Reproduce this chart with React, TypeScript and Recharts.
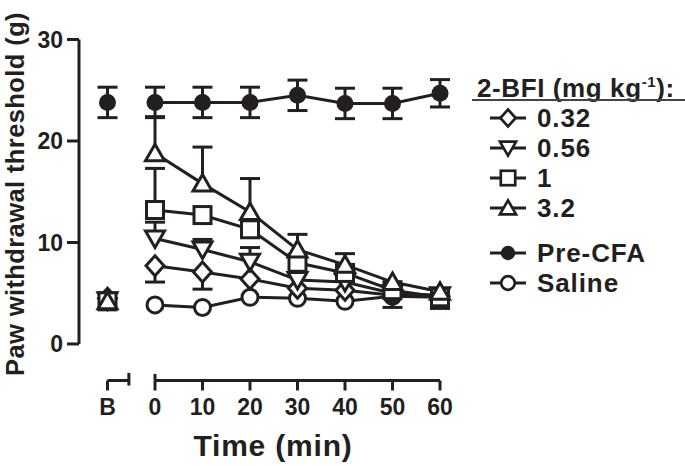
import React from 'react';
import { ComposedChart, Line, XAxis, YAxis, ErrorBar, ReferenceLine, Customized } from 'recharts';

const INK = '#231f20';
const FONT = '"Liberation Sans", Arial, Helvetica, sans-serif';

// time points (min); -10 stands for the baseline "B"
const times = [-10, 0, 10, 20, 30, 40, 50, 60];
const timeTicks = [-10, 0, 10, 20, 30, 40, 50, 60];
const yTicks = [0, 10, 20, 30];

const preCFA = [23.8, 23.8, 23.8, 23.8, 24.5, 23.7, 23.7, 24.7];
const preCFAErr = [1.5, 1.5, 1.5, 1.5, 1.5, 1.5, 1.5, 1.35];

const saline = [4.3, 3.85, 3.6, 4.6, 4.5, 4.2, 4.7, 4.6];
const salineErrDown = [0, 0, 0, 0, 0, 0, 0, 1.1];

const dose032 = [4.5, 7.7, 7.1, 6.4, 5.5, 5.3, 4.8, 4.7];
const dose032ErrDown = [0, 1.6, 1.7, 0, 0, 0, 1.2, 0];

const dose056 = [4.3, 10.4, 9.3, 8.1, 6.3, 6.1, 5.0, 4.8];
const dose056ErrUp = [0, 1.6, 1.0, 1.4, 0, 0, 0, 0];

const dose1 = [4.2, 13.2, 12.7, 11.3, 8.0, 7.0, 5.3, 4.6];
const dose1ErrUp = [0, 4.1, 0, 0, 0, 0, 0, 0];

const dose32 = [4.2, 18.8, 15.8, 13.0, 9.3, 7.8, 6.1, 5.15];
const dose32ErrUp = [0, 3.6, 3.6, 3.3, 1.5, 1.1, 0, 0];

const zeros = times.map(() => 0);

type Kind = 'diamond' | 'triDown' | 'square' | 'triUp' | 'dot' | 'ring';

const seriesDefs: { key: string; name: string; kind: Kind; values: number[]; up: number[]; down: number[] }[] = [
  { key: 'sal', name: 'Saline', kind: 'ring', values: saline, up: zeros, down: salineErrDown },
  { key: 'd032', name: '0.32', kind: 'diamond', values: dose032, up: zeros, down: dose032ErrDown },
  { key: 'd056', name: '0.56', kind: 'triDown', values: dose056, up: dose056ErrUp, down: zeros },
  { key: 'd1', name: '1', kind: 'square', values: dose1, up: dose1ErrUp, down: zeros },
  { key: 'd32', name: '3.2', kind: 'triUp', values: dose32, up: dose32ErrUp, down: zeros },
  { key: 'pre', name: 'Pre-CFA', kind: 'dot', values: preCFA, up: preCFAErr, down: preCFAErr },
];

const rows: any[] = times.map((t, i) => {
  const r: any = { t };
  seriesDefs.forEach((s) => {
    const v = s.values[i];
    const u = s.up[i];
    const d = s.down[i];
    r[s.key] = v;
    r[s.key + '_e'] = [d, u];
    if (u > 0) r[s.key + '_hi'] = v + u;
    if (d > 0) r[s.key + '_lo'] = v - d;
  });
  return r;
});
// empty row that breaks the lines between baseline and time course
rows.splice(1, 0, { t: -5 });

function Marker({ kind, cx, cy, s }: { kind: Kind; cx: number; cy: number; s: number }) {
  const sw = 3 * (s < 1 ? 0.9 : 1);
  const common = { stroke: INK, strokeWidth: sw, fill: '#fff', strokeLinejoin: 'miter' as const };
  switch (kind) {
    case 'dot':
      return <circle cx={cx} cy={cy} r={8.5 * s} fill={INK} />;
    case 'ring':
      return <circle cx={cx} cy={cy} r={8 * s} {...common} />;
    case 'square':
      return <rect x={cx - 8.5 * s} y={cy - 8.5 * s} width={17 * s} height={17 * s} {...common} />;
    case 'diamond':
      return (
        <polygon
          points={`${cx},${cy - 10 * s} ${cx + 9 * s},${cy} ${cx},${cy + 10 * s} ${cx - 9 * s},${cy}`}
          {...common}
        />
      );
    case 'triUp':
      return (
        <polygon
          points={`${cx},${cy - 9 * s} ${cx + 9.5 * s},${cy + 7.5 * s} ${cx - 9.5 * s},${cy + 7.5 * s}`}
          {...common}
        />
      );
    case 'triDown':
      return (
        <polygon
          points={`${cx},${cy + 9 * s} ${cx + 9.5 * s},${cy - 7.5 * s} ${cx - 9.5 * s},${cy - 7.5 * s}`}
          {...common}
        />
      );
  }
  return null;
}

const makeDot = (kind: Kind) => (p: any) => {
  const { cx, cy, value, index } = p;
  if (cx == null || cy == null || value == null || Number.isNaN(cy)) return <g key={`n${index}`} />;
  return (
    <g key={`m${index}`}>
      <Marker kind={kind} cx={cx} cy={cy} s={1} />
    </g>
  );
};

const capDot = (p: any) => {
  const { cx, cy, value, index } = p;
  if (cx == null || cy == null || value == null || Number.isNaN(cy)) return <g key={`c${index}`} />;
  return <line key={`c${index}`} x1={cx - 10} x2={cx + 10} y1={cy} y2={cy} stroke={INK} strokeWidth={3} />;
};

const legendItems: { name: string; kind: Kind; y: number }[] = [
  { name: '0.32', kind: 'diamond', y: 118 },
  { name: '0.56', kind: 'triDown', y: 148 },
  { name: '1', kind: 'square', y: 178 },
  { name: '3.2', kind: 'triUp', y: 208 },
  { name: 'Pre-CFA', kind: 'dot', y: 253 },
  { name: 'Saline', kind: 'ring', y: 283 },
];

function Overlay() {
  return (
    <g fontFamily={FONT} fontWeight="bold" fill={INK}>
      <text transform="translate(24,194) rotate(-90)" textAnchor="middle" fontSize={25.5} letterSpacing={0.4} fill={INK}>
        Paw withdrawal threshold (g)
      </text>
      <text x={273} y={456} textAnchor="middle" fontSize={30} letterSpacing={0.8} fill={INK}>
        Time (min)
      </text>
      <text x={477} y={97} fontSize={26} letterSpacing={0.6} fill={INK}>
        2-BFI (mg kg
        <tspan dy={-10} fontSize={15}>-1</tspan>
        <tspan dy={10}>):</tspan>
      </text>
      <line x1={472} x2={685} y1={100} y2={100} stroke="#444" strokeWidth={2} />
      {legendItems.map((it) => (
        <g key={it.name}>
          <line x1={490} x2={526} y1={it.y} y2={it.y} stroke={INK} strokeWidth={3} />
          <Marker kind={it.kind} cx={508} cy={it.y} s={0.85} />
          <text x={537} y={it.y + 8.5} fontSize={26} letterSpacing={0.9} fill={INK}>
            {it.name}
          </text>
        </g>
      ))}
    </g>
  );
}

const tickStyle = { fill: INK, fontSize: 23, fontWeight: 'bold', fontFamily: FONT };

export default function App() {
  return (
    <div style={{ position: 'absolute', left: 0, top: 0, background: '#fff' }}>
      <ComposedChart
        width={685}
        height={466}
        data={rows}
        margin={{ top: 39.5, right: 245, bottom: 0, left: 0 }}
      >
        <XAxis
          type="number"
          dataKey="t"
          domain={[-16, 60]}
          ticks={timeTicks}
          tickFormatter={(v: number) => (v === -10 ? 'B' : String(v))}
          axisLine={false}
          tickLine={{ stroke: INK, strokeWidth: 3 }}
          tickSize={10}
          tickMargin={8}
          height={85.5}
          tick={tickStyle}
          interval={0}
        />
        <YAxis
          type="number"
          domain={[-3.6, 30]}
          ticks={yTicks}
          axisLine={false}
          tickLine={{ stroke: INK, strokeWidth: 3 }}
          tickSize={12}
          tickMargin={4}
          width={79}
          tick={tickStyle}
          interval={0}
        />
        <ReferenceLine segment={[{ x: -16, y: 0 }, { x: -16, y: 30 }]} stroke={INK} strokeWidth={3} ifOverflow="visible" />
        <ReferenceLine segment={[{ x: 0, y: -3.6 }, { x: 60, y: -3.6 }]} stroke={INK} strokeWidth={3} ifOverflow="visible" />
        <ReferenceLine segment={[{ x: -10, y: -3.6 }, { x: -5.5, y: -3.6 }]} stroke={INK} strokeWidth={3} ifOverflow="visible" />
        <ReferenceLine segment={[{ x: -5.5, y: -2.85 }, { x: -5.5, y: -4.1 }]} stroke={INK} strokeWidth={3} ifOverflow="visible" />
        <ReferenceLine segment={[{ x: 0, y: -2.95 }, { x: 0, y: -3.6 }]} stroke={INK} strokeWidth={3} ifOverflow="visible" />

        {seriesDefs.map((s) => (
          <Line
            key={s.key + '_hi'}
            dataKey={s.key + '_hi'}
            stroke="none"
            dot={capDot}
            activeDot={false}
            legendType="none"
            isAnimationActive={false}
          />
        ))}
        {seriesDefs.map((s) => (
          <Line
            key={s.key + '_lo'}
            dataKey={s.key + '_lo'}
            stroke="none"
            dot={capDot}
            activeDot={false}
            legendType="none"
            isAnimationActive={false}
          />
        ))}
        {seriesDefs.map((s) => (
          <Line
            key={s.key}
            dataKey={s.key}
            name={s.name}
            stroke={INK}
            strokeWidth={3}
            dot={makeDot(s.kind)}
            activeDot={false}
            connectNulls={false}
            isAnimationActive={false}
          >
            <ErrorBar dataKey={s.key + '_e'} width={0} stroke={INK} strokeWidth={3} direction="y" />
          </Line>
        ))}
        <Customized component={Overlay} />
      </ComposedChart>
    </div>
  );
}
